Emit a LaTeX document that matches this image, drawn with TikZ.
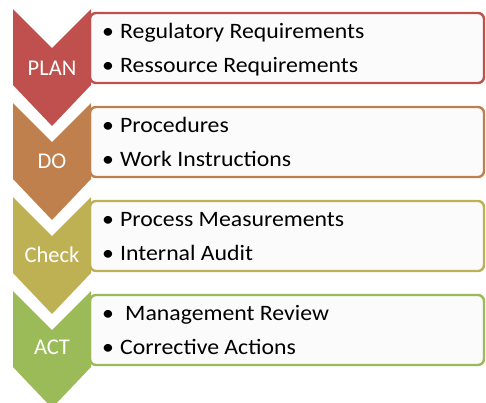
\documentclass[tikz,border=0pt]{standalone}
\usepackage{fontspec}
\setmainfont{Carlito}
\newfontfamily\itemfont[FakeStretch=1.08]{Carlito}
\definecolor{planred}{RGB}{192,80,77}
\definecolor{doorange}{RGB}{192,128,77}
\definecolor{checkolive}{RGB}{190,177,84}
\definecolor{actgreen}{RGB}{155,187,89}
\definecolor{boxfill}{RGB}{251,251,251}
\begin{document}
\begin{tikzpicture}[x=1pt,y=-1pt,
  itembox/.style={draw=#1, fill=boxfill, line width=2.4pt, rounded corners=6pt,
    minimum width=394pt, minimum height=70pt, inner sep=0pt},
  chevron/.pic={\fill[pic actions] (-39,0) -- (0,39) -- (39,0) -- (39,76) -- (0,117) -- (-39,76) -- cycle;},
  phase/.style={text=white, inner sep=0pt, font=\fontsize{22.5}{27}\selectfont},
  item/.style={anchor=base west, inner sep=0pt, font=\itemfont\fontsize{22}{26}\selectfont},
  bulletmark/.style={anchor=base, inner sep=0pt, font=\itemfont\fontsize{22}{26}\selectfont}]
\useasboundingbox (0,0) rectangle (486,402);

% text boxes (left edges tucked under the chevrons)
\node[itembox=planred]    (planbox)  at (287,48)  {};
\node[itembox=doorange]   (dobox)    at (287,142) {};
\node[itembox=checkolive] (checkbox) at (287,236) {};
\node[itembox=actgreen]   (actbox)   at (287,330) {};

% chevrons
\pic[fill=planred]    at (52,9)   {chevron};
\pic[fill=doorange]   at (52,103) {chevron};
\pic[fill=checkolive] at (52,197) {chevron};
\pic[fill=actgreen]   at (52,291) {chevron};

% phase labels
\node[phase] (plan)  at (52,68)  {PLAN};
\node[phase] (do)    at (52,161) {DO};
\node[phase] (check) at (52,255) {Check};
\node[phase] (act)   at (52,347) {ACT};

% bullet items
\node[bulletmark] (b1) at (108,38)  {•};
\node[item] (i1) at (120,38)  {Regulatory Requirements};
\node[bulletmark] (b2) at (108,72)  {•};
\node[item] (i2) at (120,72)  {Ressource Requirements};

\node[bulletmark] (b3) at (108,132) {•};
\node[item] (i3) at (120,132) {Procedures};
\node[bulletmark] (b4) at (108,166) {•};
\node[item] (i4) at (120,166) {Work Instructions};

\node[bulletmark] (b5) at (108,226) {•};
\node[item] (i5) at (120,226) {Process Measurements};
\node[bulletmark] (b6) at (108,260) {•};
\node[item] (i6) at (120,260) {Internal Audit};

\node[bulletmark] (b7) at (108,320) {•};
\node[item] (i7) at (125,320) {Management Review};
\node[bulletmark] (b8) at (108,354) {•};
\node[item] (i8) at (120,354) {Corrective Actions};
\end{tikzpicture}
\end{document}
